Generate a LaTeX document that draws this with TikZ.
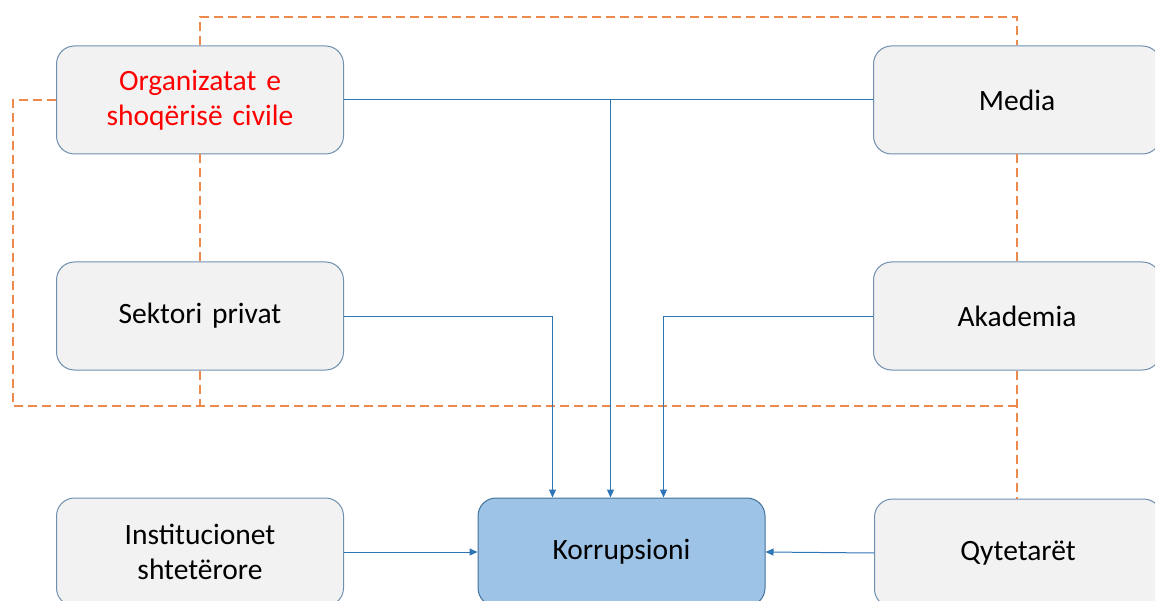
\documentclass[tikz,border=0pt]{standalone}
\usepackage{fontspec}
\setmainfont{Carlito}
\usetikzlibrary{arrows.meta}

\definecolor{boxfill}{HTML}{F2F2F2}
\definecolor{boxline}{HTML}{6F8FB0}
\definecolor{korrfill}{HTML}{9DC3E6}
\definecolor{korrline}{HTML}{41719C}
\definecolor{linkblue}{HTML}{2E75B6}
\definecolor{tieorange}{HTML}{EB8A4C}

\begin{document}
\begin{tikzpicture}[
    x=1pt, y=-1pt,
    actor/.style={rectangle, rounded corners=18pt, draw=boxline, fill=boxfill, line width=1pt, minimum width=287pt, minimum height=108pt, text width=260pt, align=center, font=\fontsize{29.5}{35}\selectfont},
    target/.style={actor, draw=korrline, fill=korrfill},
    link/.style={draw=linkblue, line width=1pt},
    arrow/.style={link, -{Triangle[length=8pt,width=7pt]}},
    tie/.style={draw=tieorange, line width=2pt, dash pattern=on 9pt off 5pt}
]
\clip (0,0) rectangle (1155,601);

\node[actor, text=red] (osc) at (200,100) {Organizatat e\\shoqërisë civile};
\node[actor] (media) at (1017,100) {Media};
\node[actor] (sektori) at (200,316) {Sektori privat};
\node[actor] (akademia) at (1017,316) {Akademia};
\node[actor] (institucionet) at (200,552) {Institucionet\\shtetërore};
\node[target] (korr) at (621.5,552) {Korrupsioni};
\node[actor] (qytet) at (1018,553) {Qytetarët};

% dashed ties between the actors
\coordinate (loopleft) at (13,406);
\coordinate (loopright) at (1017,406);
\draw[tie] (osc.north) -- ++(0,-28) -| (media.north);
\draw[tie] (osc.west) -| (loopleft) -- (loopright);
\draw[tie] (osc.south) -- (sektori.north);
\draw[tie] (sektori.south) -- (sektori.south |- loopleft);
\draw[tie] (media.south) -- (akademia.north);
\draw[tie] (akademia.south) -- (akademia.south |- qytet.north);

% links into Korrupsioni
\coordinate (split) at (610.5,99.5);
\draw[link] (osc.east |- split) -- (media.west |- split);
\draw[arrow] (split) -- (split |- korr.north);
\draw[arrow] (sektori.east) -| ([xshift=75pt]korr.north west);
\draw[arrow] (akademia.west) -| ([xshift=-102pt]korr.north east);
\draw[arrow] (institucionet.east) -- (korr.west);
\draw[arrow] (qytet.west) -- (korr.east);

\end{tikzpicture}
\end{document}
